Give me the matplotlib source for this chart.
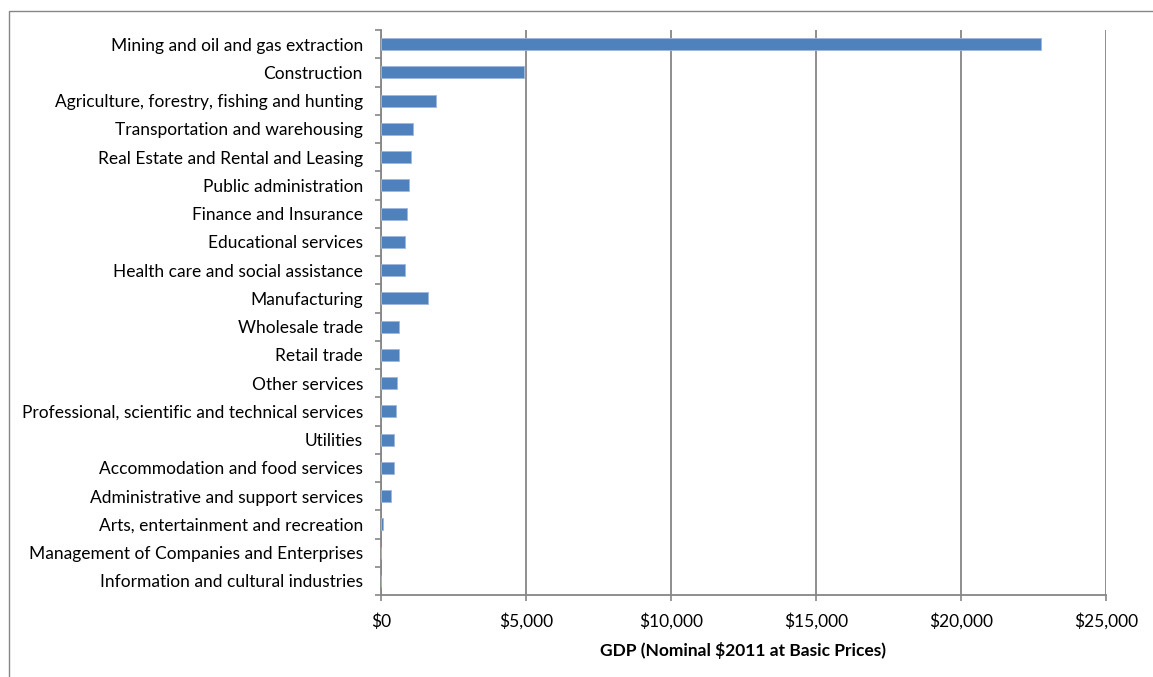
import matplotlib
matplotlib.use('Agg')
import matplotlib.pyplot as plt
from matplotlib.patches import Rectangle
from matplotlib.ticker import FuncFormatter, FixedLocator

industries = [
    'Mining and oil and gas extraction',
    'Construction',
    'Agriculture, forestry, fishing and hunting',
    'Transportation and warehousing',
    'Real Estate and Rental and Leasing',
    'Public administration',
    'Finance and Insurance',
    'Educational services',
    'Health care and social assistance',
    'Manufacturing',
    'Wholesale trade',
    'Retail trade',
    'Other services',
    'Professional, scientific and technical services',
    'Utilities',
    'Accommodation and food services',
    'Administrative and support services',
    'Arts, entertainment and recreation',
    'Management of Companies and Enterprises',
    'Information and cultural industries',
]
gdp = [22760, 4920, 1885, 1115, 1046, 977, 908, 839, 839, 1632,
       632, 609, 540, 530, 448, 437, 356, 70, 0, 0]
x_ticks = [0, 5000, 10000, 15000, 20000, 25000]

plt.rcParams['font.family'] = ['Lato', 'DejaVu Sans']
grey = '#868686'
fs = 12.5

W, H = 1153, 677
fig = plt.figure(figsize=(W / 100, H / 100), dpi=100)
# рамка диаграммы как в Excel
fig.patches.append(Rectangle((9 / W, 1 - 690 / H), 1160 / W, 679 / H,
                             transform=fig.transFigure, fill=False,
                             edgecolor=grey, linewidth=1))

ax = fig.add_axes([381 / W, 1 - 595 / H, (1106 - 381) / W, (595 - 30) / H])
y = list(range(len(industries)))
ax.barh(y, gdp, height=0.42, color='#4F81BD', edgecolor='#9DB9DD',
        linewidth=0.6, zorder=3)

ax.set_ylim(len(industries) - 0.5, -0.5)
ax.set_xlim(0, 25000)
ax.set_yticks(y)
ax.set_yticklabels(industries, fontsize=fs)
ax.yaxis.set_minor_locator(FixedLocator([i - 0.5 for i in range(len(industries) + 1)]))
ax.tick_params(axis='y', which='major', length=0, pad=13)
ax.tick_params(axis='y', which='minor', length=4, width=1.2, color=grey, direction='out')

ax.set_xticks(x_ticks)
ax.xaxis.set_major_formatter(FuncFormatter(lambda v, p: f'${v:,.0f}'))
ax.tick_params(axis='x', length=4, width=1.2, color=grey, direction='out', pad=9, labelsize=fs)
ax.grid(axis='x', color=grey, linewidth=1.3, zorder=0)
ax.set_xlabel('GDP (Nominal $2011 at Basic Prices)', fontsize=fs, fontweight='bold', labelpad=9)

for s in ['top', 'right']:
    ax.spines[s].set_visible(False)
for s in ['left', 'bottom']:
    ax.spines[s].set_color(grey)
    ax.spines[s].set_linewidth(1.3)

fig.savefig('out.png', dpi=100)
